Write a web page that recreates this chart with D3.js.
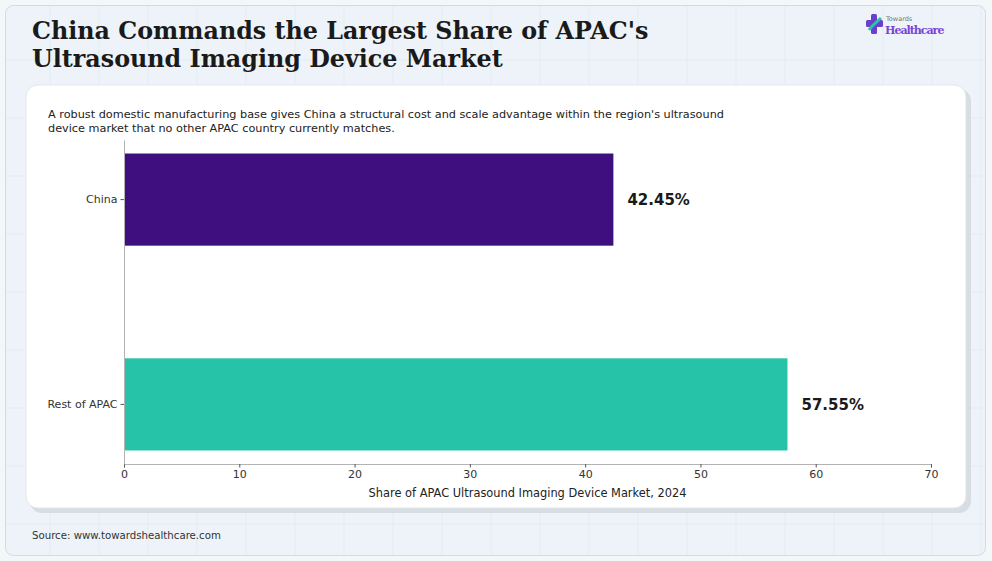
<!DOCTYPE html>
<html>
<head>
<meta charset="utf-8">
<script src="https://cdn.jsdelivr.net/npm/d3@7"></script>
<style>
  html, body { margin: 0; padding: 0; background: #f4f7fa; }
  svg { display: block; font-family: "DejaVu Sans", sans-serif; }
</style>
</head>
<body>
<div id="chart"></div>
<script>
// data
const categories = ['China', 'Rest of APAC'];
const shares = [42.45, 57.55];
const barColors = ['#3f0f80', '#27c3a8'];
const xTicks = [0, 10, 20, 30, 40, 50, 60, 70];

const W = 992, H = 561;
const plot = {left: 124, right: 931, top: 140, bottom: 464};

const svg = d3.select('#chart').append('svg')
    .attr('width', W)
    .attr('height', H);

// page background with faint grid
svg.append('rect').attr('width', W).attr('height', H).attr('fill', '#f4f7fa');
svg.append('rect')
    .attr('x', 5.5).attr('y', 5.5)
    .attr('width', 980).attr('height', 550)
    .attr('rx', 8)
    .attr('fill', '#edf3f8')
    .attr('stroke', '#d3dbe2');

const gridG = svg.append('g').attr('opacity', 0.5);
d3.range(50, 990, 49).forEach(x => {
    gridG.append('line').attr('x1', x).attr('x2', x).attr('y1', 6).attr('y2', 555)
        .attr('stroke', '#dde6ee').attr('stroke-width', 1);
});
d3.range(60, 556, 58).forEach(y => {
    gridG.append('line').attr('x1', 6).attr('x2', 985).attr('y1', y).attr('y2', y)
        .attr('stroke', '#dde6ee').attr('stroke-width', 1);
});

// title
const title = svg.append('text')
    .style('font-family', '"DejaVu Serif", serif')
    .style('font-weight', 'bold')
    .style('font-size', '23.8px')
    .attr('fill', '#1a1a1a');
title.append('tspan').attr('x', 32).attr('y', 39).text("China Commands the Largest Share of APAC's");
title.append('tspan').attr('x', 32).attr('y', 67).text('Ultrasound Imaging Device Market');

// logo
const logo = svg.append('g').attr('transform', 'translate(866,14)');
logo.append('rect').attr('x', 5).attr('y', 0).attr('width', 6).attr('height', 20).attr('rx', 1.5).attr('fill', '#6a3fd0');
logo.append('rect').attr('x', 0).attr('y', 6).attr('width', 17).attr('height', 7).attr('rx', 1.5).attr('fill', '#6a3fd0');
logo.append('path').attr('d', 'M3,16 C7,10 11,8 15,4').attr('stroke', '#2fc3a6').attr('stroke-width', 3).attr('fill', 'none');
logo.append('text').attr('x', 20).attr('y', 7)
    .style('font-size', '6.5px').attr('fill', '#777').text('Towards');
logo.append('text').attr('x', 19).attr('y', 20)
    .style('font-family', '"DejaVu Serif", serif')
    .style('font-size', '11px')
    .style('font-weight', 'bold')
    .style('letter-spacing', '-1px')
    .attr('fill', '#7a45d6').text('Healthcare');

// card with shadow
svg.append('rect')
    .attr('x', 30).attr('y', 89)
    .attr('width', 941).attr('height', 424)
    .attr('rx', 12)
    .attr('fill', '#d6dde3');
svg.append('rect')
    .attr('x', 26).attr('y', 85)
    .attr('width', 940).attr('height', 423)
    .attr('rx', 12)
    .attr('fill', '#ffffff')
    .attr('stroke', '#e3e8ec');

// subtitle
const sub = svg.append('text')
    .style('font-size', '11.25px')
    .attr('fill', '#222');
sub.append('tspan').attr('x', 48).attr('y', 118)
    .text("A robust domestic manufacturing base gives China a structural cost and scale advantage within the region's ultrasound");
sub.append('tspan').attr('x', 48).attr('y', 132)
    .text('device market that no other APAC country currently matches.');

// scales
const x = d3.scaleLinear().domain([0, 70]).range([plot.left, plot.right]);
const y = d3.scaleBand().domain(categories).range([plot.top, plot.bottom])
    .paddingInner(0.55).paddingOuter(0.066);

// bars
svg.append('g').selectAll('rect')
    .data(categories)
    .join('rect')
    .attr('x', x(0))
    .attr('y', d => y(d))
    .attr('width', (d, i) => x(shares[i]) - x(0))
    .attr('height', y.bandwidth())
    .attr('fill', (d, i) => barColors[i]);

// value labels
svg.append('g').selectAll('text')
    .data(categories)
    .join('text')
    .attr('x', (d, i) => x(shares[i]) + 14)
    .attr('y', d => y(d) + y.bandwidth() / 2)
    .attr('dy', '0.35em')
    .style('font-size', '15px')
    .style('font-weight', 'bold')
    .attr('fill', '#1a1a1a')
    .text((d, i) => shares[i].toFixed(2) + '%');

// x axis
const xAxis = svg.append('g')
    .attr('transform', `translate(0,${plot.bottom})`)
    .call(d3.axisBottom(x).tickValues(xTicks).tickSize(3.5).tickPadding(3));
xAxis.select('.domain').attr('stroke', '#b3b3b3');
xAxis.selectAll('.tick line').attr('stroke', '#555');
xAxis.selectAll('.tick text').style('font-size', '11px').attr('fill', '#333').style('font-family', '"DejaVu Sans", sans-serif');

// y axis
const yAxis = svg.append('g')
    .attr('transform', `translate(${plot.left},0)`)
    .call(d3.axisLeft(y).tickSize(3.5).tickPadding(3).tickSizeOuter(0));
yAxis.select('.domain').attr('stroke', '#b3b3b3');
yAxis.selectAll('.tick line').attr('stroke', '#555');
yAxis.selectAll('.tick text').style('font-size', '11px').attr('fill', '#333').style('font-family', '"DejaVu Sans", sans-serif');

// axis title
svg.append('text')
    .attr('x', (plot.left + plot.right) / 2)
    .attr('y', 497)
    .attr('text-anchor', 'middle')
    .style('font-size', '11.4px')
    .attr('fill', '#222')
    .text('Share of APAC Ultrasound Imaging Device Market, 2024');

// source
svg.append('text')
    .attr('x', 32).attr('y', 539)
    .style('font-size', '10.2px')
    .attr('fill', '#333')
    .text('Source: www.towardshealthcare.com');
</script>
</body>
</html>
